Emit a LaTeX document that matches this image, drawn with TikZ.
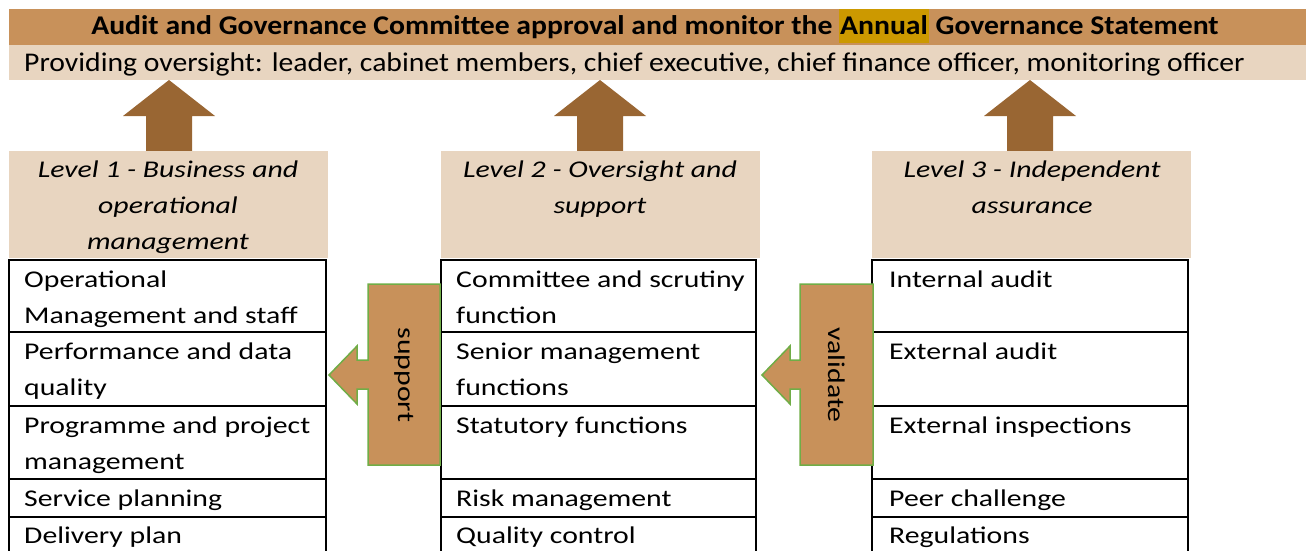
\documentclass[tikz,border=0pt]{standalone}
\usepackage{fontspec}
\setmainfont{Carlito}[FakeStretch=1.24]
\newfontfamily\topfont{Carlito}[FakeStretch=1.1]
\definecolor{tandark}{RGB}{200,145,90}
\definecolor{tanlight}{RGB}{232,213,192}
\definecolor{brownarrow}{RGB}{153,102,51}
\definecolor{hlgold}{RGB}{204,153,0}
\definecolor{greenedge}{RGB}{112,173,71}
\begin{document}
\begin{tikzpicture}[x=1pt,y=-1pt,
  txt/.style={font=\fontsize{24}{36}\selectfont, inner sep=0pt},
  toptxt/.style={inner sep=0pt, font=\topfont\fontsize{27}{30}\selectfont},
  celltxt/.style={txt, anchor=base west, align=left},
  hdrtxt/.style={font=\fontsize{24}{36}\selectfont\itshape, inner sep=0pt, align=center, anchor=base},
  grid/.style={draw=black, line width=2pt},
  uparrow/.style={fill=brownarrow},
  sidearrow/.style={fill=tandark, draw=greenedge, line width=1.5pt},
  sidetxt/.style={font=\fontsize{24}{28}\selectfont, inner sep=0pt, rotate=-90}]
\useasboundingbox (0,0) rectangle (1306,551);
% top banner
\fill[tandark] (9,9) rectangle (1306,45);
\fill[tanlight] (9,45) rectangle (1306,80);
\node[toptxt, anchor=base] (title) at (655,35)
  {\bfseries Audit and Governance Committee approval and monitor the {\setlength\fboxsep{1pt}\colorbox{hlgold}{\vrule height 25pt depth 7pt width 0pt Annual}} Governance Statement};
\node[toptxt, anchor=base west] (oversight) at (24,71)
  {Providing oversight: leader, cabinet members, chief executive, chief finance officer, monitoring officer};
% up arrows
\foreach \cx in {169,600,1030}{
  \fill[uparrow] (\cx-23,151) -- (\cx-23,116) -- (\cx-46,116) -- (\cx,80) -- (\cx+46,116) -- (\cx+23,116) -- (\cx+23,151) -- cycle;
}
% headers
\fill[tanlight] (9,151) rectangle (328,258);
\fill[tanlight] (441,151) rectangle (760,258);
\fill[tanlight] (872,151) rectangle (1191,258);
% (base anchor = baseline of the last line)
\node[hdrtxt] (h1) at (168,249) {Level 1 - Business and\\operational\\management};
\node[hdrtxt] (h2) at (600,213) {Level 2 - Oversight and\\support};
\node[hdrtxt] (h3) at (1032,213) {Level 3 - Independent\\assurance};
% tables
\foreach \xl/\xr in {9/326,441/756,872/1188}{
  \draw[grid] (\xl,551) -- (\xl,260) -- (\xr,260) -- (\xr,551);
  \foreach \yy in {332,406,479,517}{
    \draw[grid] (\xl,\yy) -- (\xr,\yy);
  }
}
% column 1
\node[celltxt] (c11) at (24,323) {Operational\\Management and staff};
\node[celltxt] (c12) at (24,395) {Performance and data\\quality};
\node[celltxt] (c13) at (24,469) {Programme and project\\management};
\node[celltxt] (c14) at (24,506) {Service planning};
\node[celltxt] (c15) at (24,543) {Delivery plan};
% column 2
\node[celltxt] (c21) at (456,323) {Committee and scrutiny\\function};
\node[celltxt] (c22) at (456,395) {Senior management\\functions};
\node[celltxt] (c23) at (456,433) {Statutory functions};
\node[celltxt] (c24) at (456,506) {Risk management};
\node[celltxt] (c25) at (456,543) {Quality control};
% column 3
\node[celltxt] (c31) at (889,287) {Internal audit};
\node[celltxt] (c32) at (889,359) {External audit};
\node[celltxt] (c33) at (889,433) {External inspections};
\node[celltxt] (c34) at (889,506) {Peer challenge};
\node[celltxt] (c35) at (889,543) {Regulations};
% side arrows
\draw[sidearrow] (440,284) -- (440,465) -- (368,465) -- (368,389) -- (357,389) -- (357,404) -- (329,375) -- (357,346) -- (357,360) -- (368,360) -- (368,284) -- cycle;
\node[sidetxt] (support) at (404,375) {support};
\draw[sidearrow] (873,284) -- (873,465) -- (800,465) -- (800,389) -- (790,389) -- (790,404) -- (762,375) -- (790,346) -- (790,360) -- (800,360) -- (800,284) -- cycle;
\node[sidetxt] (validate) at (837,375) {validate};
\end{tikzpicture}
\end{document}
